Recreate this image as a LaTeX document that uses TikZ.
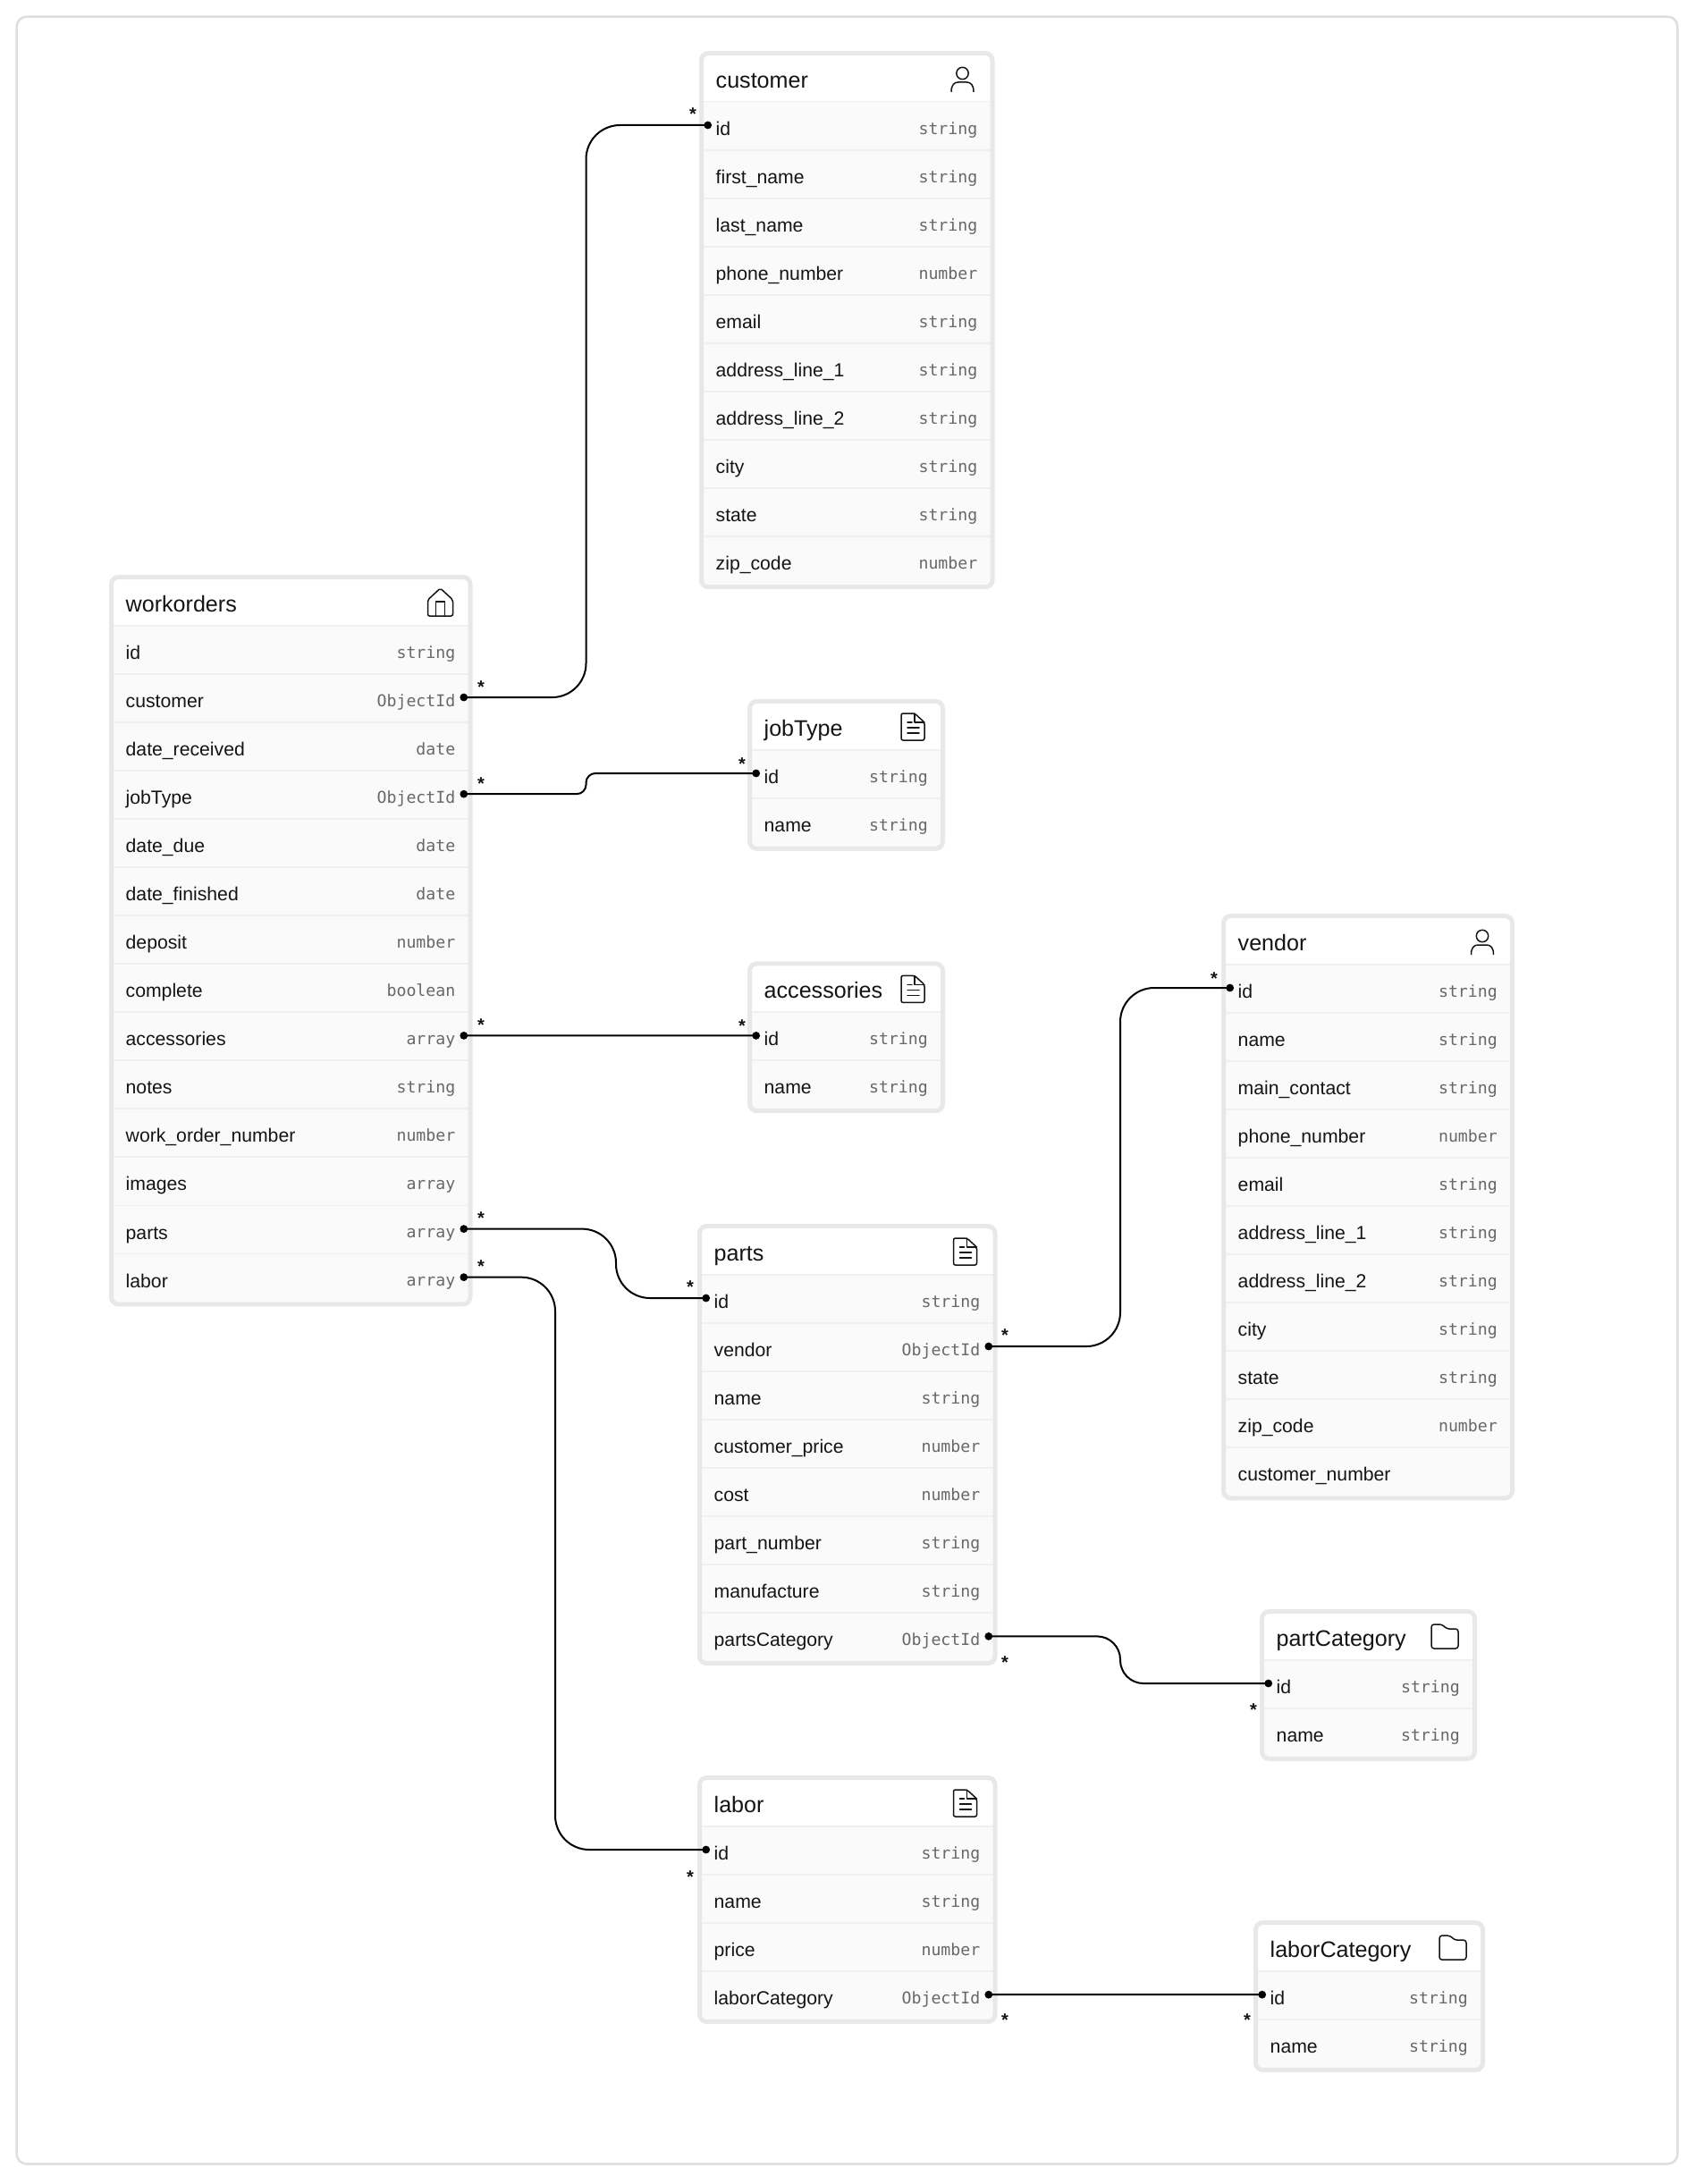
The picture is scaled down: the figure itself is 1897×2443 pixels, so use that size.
\documentclass[tikz,border=0pt]{standalone}
\usepackage{fontspec}
\setmainfont{Liberation Sans}
\newfontfamily\typefont{DejaVu Sans Mono}
\definecolor{bordergray}{HTML}{E8E8E8}
\definecolor{framegray}{HTML}{DEDEE2}
\definecolor{rowfill}{HTML}{FAFAFA}
\definecolor{rowline}{HTML}{F0F0F0}
\definecolor{inkblack}{HTML}{141414}
\definecolor{typegray}{HTML}{686868}
\tikzset{
  x=1pt,y=-1pt,
  tabletitle/.style={anchor=base west,inner sep=0pt,font=\fontsize{25.1}{28}\selectfont,text=inkblack},
  rowlabel/.style={anchor=base west,inner sep=0pt,font=\fontsize{21.2}{24}\selectfont,text=inkblack},
  rowtype/.style={anchor=base east,inner sep=0pt,font=\fontsize{18.2}{22}\typefont,text=typegray},
  starmark/.style={anchor=base,inner sep=0pt,font=\fontsize{20}{20}\selectfont\bfseries,text=inkblack},
  tableframe/.style={draw=bordergray,line width=5pt,rounded corners=8pt},
  conn/.style={draw=black,line width=2pt},
  icon/.style={draw=inkblack,line width=1.5pt,line join=round,line cap=round},
}
\newcommand{\iconperson}{%
  \draw[icon] (0,25) circle[radius=6.7];
  \draw[icon] (-12.5,45.5) .. controls (-12.5,38) and (-9,35) .. (-5,35) -- (5,35) .. controls (9,35) and (12.5,38) .. (12.5,45.5);}
\newcommand{\iconhouse}{%
  \draw[icon,rounded corners=2pt] (-14,46) -- (-14,28) -- (0,15) -- (14,28) -- (14,46) -- cycle;
  \draw[icon] (-5,46) -- (-5,30) -- (5,30) -- (5,46);}
\newcommand{\icondoc}{%
  \draw[icon,rounded corners=2pt] (-13,16) -- (2,16) -- (13,26) -- (13,46) -- (-13,46) -- cycle;
  \draw[icon] (2,16) -- (2,26) -- (13,26);
  \draw[icon] (-6,26) -- (-1,26) (-6,32) -- (7,32) (-6,38) -- (7,38);}
\newcommand{\iconfolder}{%
  \draw[icon,rounded corners=3pt] (-15,17) -- (-3,17) -- (2,22) -- (15,22) -- (15,44) -- (-15,44) -- cycle;}
% \tbl{id}{left}{top}{width}{title}{icon}{label/type,...}
\newcommand{\tbl}[7]{%
  \def\tL{#2}\def\tT{#3}\pgfmathsetmacro{\tR}{#2+#4}
  \foreach \lab/\typ [count=\i] in {#7}{
    \pgfmathsetmacro{\rT}{#3+56.7+(\i-1)*54.05}
    \pgfmathsetmacro{\rB}{\rT+54.05}
    \pgfmathsetmacro{\bl}{\rT+37.7}
    \pgfmathsetmacro{\tb}{\rT+36.6}
    \pgfmathsetmacro{\dy}{\rT+26.3}
    \fill[rowfill] (\tL+2,\rT) rectangle (\tR-2,\rB);
    \draw[rowline,line width=1.6pt] (\tL+2,\rT) -- (\tR-2,\rT);
    \node[rowlabel] (#1-l\i) at (\tL+18.5,\bl) {\lab};
    \node[rowtype] (#1-t\i) at (\tR-19,\tb) {\typ};
    \coordinate (#1-\i-W) at (\tL+9.7,\dy);
    \coordinate (#1-\i-E) at (\tR-9.7,\dy);
    \global\let\lastrB\rB
  }
  \draw[tableframe] (\tL+2.5,#3+2.5) rectangle (\tR-2.5,\lastrB+2.5);
  \node[tabletitle] (#1-title) at (\tL+18.5,#3+41.5) {#5};
  \begin{scope}[shift={(\tR-36,#3)}]#6\end{scope}
}
\newcommand{\rdot}[1]{\fill[black] (#1) circle[radius=4.4];}
\begin{document}
\begin{tikzpicture}
\useasboundingbox (0,0) rectangle (1897,2443);
\fill[white] (0,0) rectangle (1897,2443);
\draw[framegray,line width=2.5pt,rounded corners=11pt] (18.7,18.7) rectangle (1876.3,2420.5);

\tbl{customer}{782}{57}{330.5}{customer}{\iconperson}{id/string,first\_name/string,last\_name/string,phone\_number/number,email/string,address\_line\_1/string,address\_line\_2/string,city/string,state/string,zip\_code/number}
\tbl{workorders}{122}{643}{406.5}{workorders}{\iconhouse}{id/string,customer/ObjectId,date\_received/date,jobType/ObjectId,date\_due/date,date\_finished/date,deposit/number,complete/boolean,accessories/array,notes/string,work\_order\_number/number,images/array,parts/array,labor/array}
\tbl{jobType}{836}{782}{221}{jobType}{\icondoc}{id/string,name/string}
\tbl{accessories}{836}{1075.4}{221}{accessories}{\icondoc}{id/string,name/string}
\tbl{parts}{780}{1369}{335.5}{parts}{\icondoc}{id/string,vendor/ObjectId,name/string,customer\_price/number,cost/number,part\_number/string,manufacture/string,partsCategory/ObjectId}
\tbl{labor}{780}{1986}{335.5}{labor}{\icondoc}{id/string,name/string,price/number,laborCategory/ObjectId}
\tbl{vendor}{1366}{1022}{328}{vendor}{\iconperson}{id/string,name/string,main\_contact/string,phone\_number/number,email/string,address\_line\_1/string,address\_line\_2/string,city/string,state/string,zip\_code/number,customer\_number/{}}
\tbl{partCategory}{1409}{1800}{243}{partCategory}{\iconfolder}{id/string,name/string}
\tbl{laborCategory}{1402}{2148.15}{259}{laborCategory}{\iconfolder}{id/string,name/string}

\coordinate (v1) at (655.5,400);
\coordinate (v2) at (689,1400);
\coordinate (v3) at (621,1400);
\coordinate (v4) at (1253,1400);
\draw[conn,rounded corners=38pt] (workorders-2-E) -- (workorders-2-E -| v1) -- (customer-1-W -| v1) -- (customer-1-W);
\draw[conn,rounded corners=10.5pt] (workorders-4-E) -- (workorders-4-E -| v1) -- (jobType-1-W -| v1) -- (jobType-1-W);
\draw[conn] (workorders-9-E) -- (accessories-1-W);
\draw[conn,rounded corners=38pt] (workorders-13-E) -- (workorders-13-E -| v2) -- (parts-1-W -| v2) -- (parts-1-W);
\draw[conn,rounded corners=38pt] (workorders-14-E) -- (workorders-14-E -| v3) -- (labor-1-W -| v3) -- (labor-1-W);
\draw[conn,rounded corners=38pt] (parts-2-E) -- (parts-2-E -| v4) -- (vendor-1-W -| v4) -- (vendor-1-W);
\draw[conn,rounded corners=26pt] (parts-8-E) -- (parts-8-E -| v4) -- (partCategory-1-W -| v4) -- (partCategory-1-W);
\draw[conn] (labor-4-E) -- (laborCategory-1-W);
\foreach \c in {workorders-2-E,customer-1-W,workorders-4-E,jobType-1-W,workorders-9-E,accessories-1-W,workorders-13-E,parts-1-W,workorders-14-E,labor-1-W,parts-2-E,vendor-1-W,parts-8-E,partCategory-1-W,labor-4-E,laborCategory-1-W}{\rdot{\c}}

\foreach \n/\x/\y in {s1/775/124,s2/538/764,s3/538/872,s4/830/850,s5/538/1142,s6/830/1143,s7/538/1358,s8/538/1412,s9/772/1435,s10/772/2095,s11/1124/1489,s12/1358/1090,s13/1124/1855,s14/1402/1908,s15/1124/2255,s16/1395/2255}{
  \node[starmark] (\n) at (\x,\y+11) {*};
}
\end{tikzpicture}
\end{document}
